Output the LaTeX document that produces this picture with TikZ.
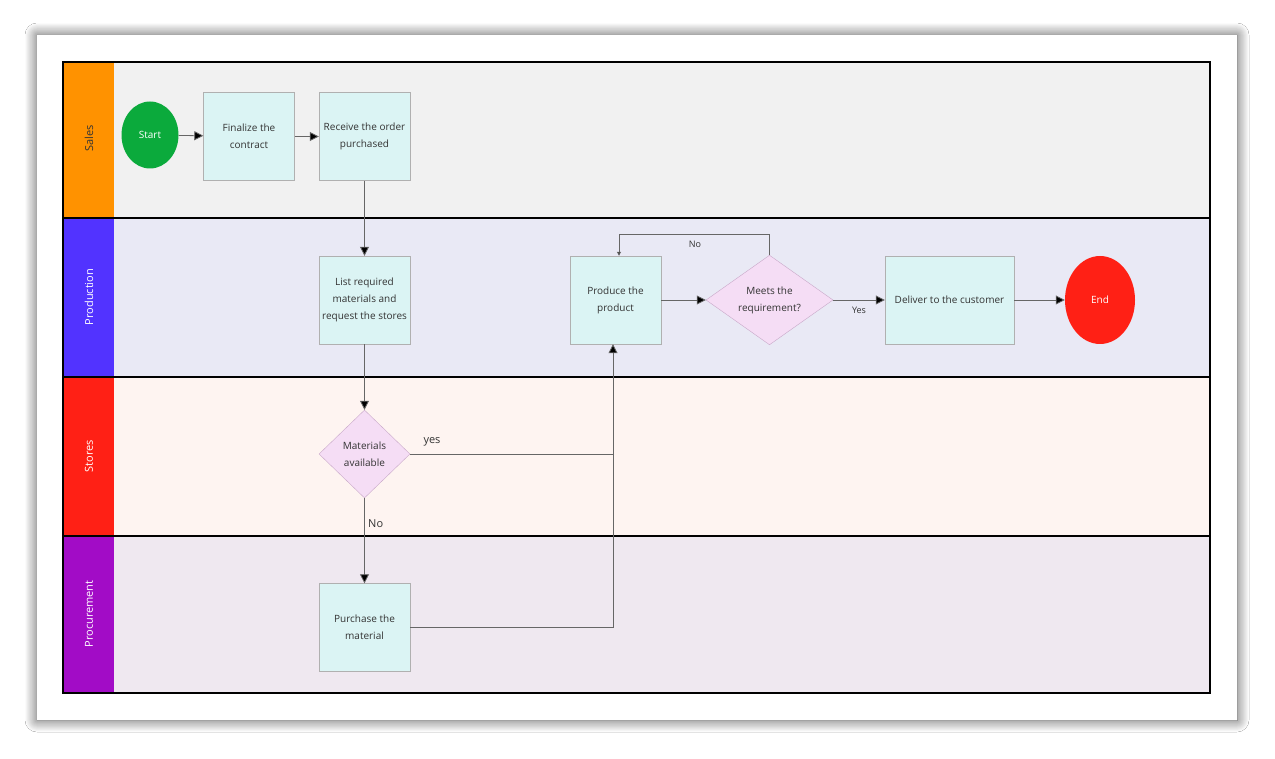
\documentclass[tikz,border=0pt]{standalone}
\usepackage{fontspec}
\setmainfont{Open Sans}
\usetikzlibrary{shapes.geometric,arrows.meta,shadows.blur}
\definecolor{boxf}{HTML}{DBF4F4}
\definecolor{boxd}{HTML}{B0B0B0}
\definecolor{diaf}{HTML}{F5DDF5}
\definecolor{diad}{HTML}{C8A8C8}
\definecolor{bgS}{HTML}{F1F1F1}
\definecolor{bgP}{HTML}{E9E9F5}
\definecolor{bgT}{HTML}{FEF4F1}
\definecolor{bgR}{HTML}{EFE8F0}
\definecolor{cS}{HTML}{FF9200}
\definecolor{cP}{HTML}{5233FF}
\definecolor{cT}{HTML}{FF2015}
\definecolor{cR}{HTML}{A20CC6}
\definecolor{cgreen}{HTML}{0BAA3C}
\begin{document}
\begin{tikzpicture}[x=1pt,y=-1pt,
  box/.style={draw=boxd,fill=boxf,minimum width=91pt,minimum height=88pt,align=center,font=\fontsize{10}{17}\selectfont,text=black!80},
  dia/.style={diamond,draw=diad,fill=diaf,align=center,font=\fontsize{10}{17}\selectfont,text=black!80,inner sep=0pt},
  arr/.style={draw=black!60,-{Triangle[length=9pt,width=9pt,fill=black]},line width=0.8pt},
  ln/.style={draw=black!60,line width=0.8pt},
  lab/.style={font=\fontsize{9}{10}\selectfont,text=black!80},
  lane/.style={font=\fontsize{11}{12}\selectfont,rotate=90}]
\useasboundingbox (0,0) rectangle (1275,759);
\fill[white] (0,0) rectangle (1275,759);
\fill[white,blur shadow={shadow blur steps=12,shadow xshift=0pt,shadow yshift=0pt,shadow blur radius=12pt,shadow opacity=70}] (37,35) rectangle (1237,720);
% lanes
\fill[bgS] (63,62) rectangle (1210,218);
\fill[bgP] (63,218) rectangle (1210,377);
\fill[bgT] (63,377) rectangle (1210,536);
\fill[bgR] (63,536) rectangle (1210,693);
\fill[cS] (63,62) rectangle (114,218);
\fill[cP] (63,218) rectangle (114,377);
\fill[cT] (63,377) rectangle (114,536);
\fill[cR] (63,536) rectangle (114,693);
\node[lane,text=black!80] (ls) at (89,138) {Sales};
\node[lane,text=white] (lp) at (89,297) {Production};
\node[lane,text=white] (lst) at (89,456) {Stores};
\node[lane,text=white] (lpr) at (89,614) {Procurement};
\draw[line width=2pt] (63,62) rectangle (1210,693);
\draw[line width=2pt] (63,218) -- (1210,218) (63,377) -- (1210,377) (63,536) -- (1210,536);
% nodes
\node[ellipse,fill=cgreen,minimum width=57pt,minimum height=67pt,text=white,font=\fontsize{10}{12}\selectfont] (start) at (150,135) {Start};
\node[box] (fin) at (249,136.5) {Finalize the\\contract};
\node[box] (rec) at (364.5,136.5) {Receive the order\\purchased};
\node[box] (list) at (364.5,300) {List required\\materials and\\request the stores};
\node[dia,minimum width=91pt,minimum height=88pt] (mat) at (364.5,454) {Materials\\available};
\node[box] (pur) at (364.5,627.5) {Purchase the\\material};
\node[box] (prod) at (615.5,300) {Produce the\\product};
\node[dia,minimum width=127pt,minimum height=88pt] (meet) at (769.5,300) {Meets the\\requirement?};
\node[box,minimum width=129pt] (del) at (949.5,300) {Deliver to the customer};
\node[ellipse,fill=cT,minimum width=70pt,minimum height=88pt,text=white,font=\fontsize{10}{12}\selectfont] (end) at (1100,300) {End};
% edges
\draw[arr] (start) -- (fin);
\draw[arr] (fin) -- (rec);
\draw[arr] (rec) -- (list);
\draw[arr] (list) -- (mat);
\draw[arr] (mat) -- node[lab,pos=0.3,right,font=\fontsize{11}{12}\selectfont] {No} (pur);
\coordinate (j1) at (613,454);
\coordinate (j2) at (613,627.5);
\draw[ln] (mat.east) -- (j1);
\node[lab,font=\fontsize{11}{12}\selectfont] (yes) at (432,442) {yes};
\draw[ln] (pur.east) -- (j2);
\draw[arr] (j2) -- (prod.south -| j2);
\draw[arr] (prod) -- (meet);
\draw[arr] (meet) -- (del);
\node[lab] (yl) at (859,310) {Yes};
\coordinate (n1) at (769.5,234);
\coordinate (n2) at (619,234);
\draw[ln,-{Triangle[length=4pt,width=4pt,fill=black]}] (meet.north) -- (n1) -- (n2) -- (prod.north -| n2);
\node[lab] (nl) at (695,244) {No};
\draw[arr] (del) -- (end);
\end{tikzpicture}
\end{document}
